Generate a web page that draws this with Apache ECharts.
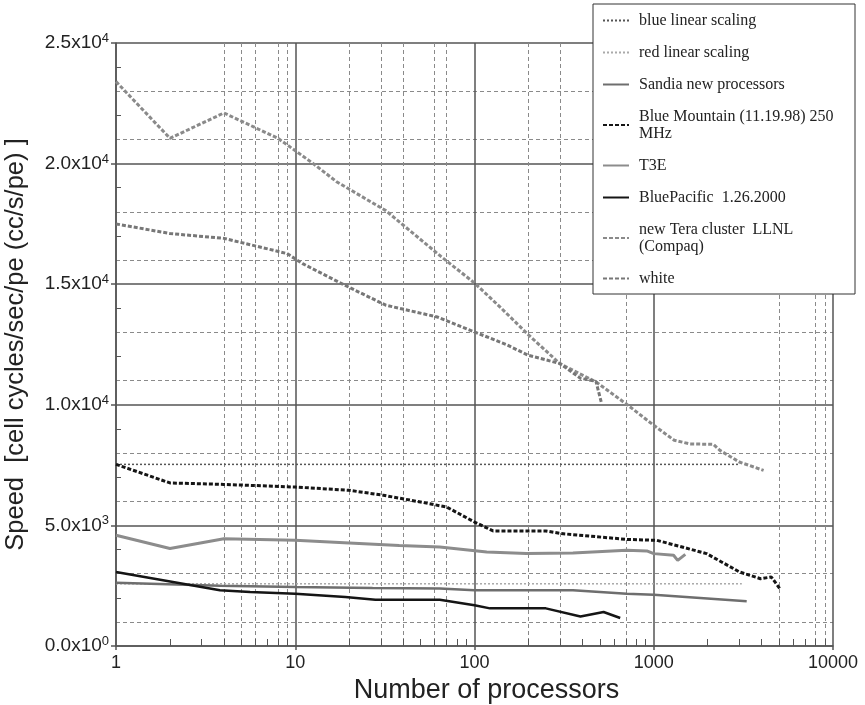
<!DOCTYPE html>
<html>
<head>
<meta charset="utf-8">
<title>Speed vs processors</title>
<script src="https://cdn.jsdelivr.net/npm/echarts@6/dist/echarts.min.js"></script>
<style>
  html, body { margin: 0; padding: 0; background: #fff; }
  #chart { width: 865px; height: 705px; }
</style>
</head>
<body>
<div id="chart"></div>
<script>
// data (x = number of processors, y = cc/s/pe)
let blueLinearProcs = [1, 3000];
let blueLinearSpeed = [7530, 7530];
let redLinearProcs = [1, 3100];
let redLinearSpeed = [2580, 2580];

let sandiaProcs = [1, 3.8, 10, 27, 64, 100, 354, 707, 1000, 3300];
let sandiaSpeed = [2620, 2500, 2450, 2400, 2380, 2310, 2310, 2170, 2120, 1860];

let blueMtnProcs = [1, 2, 4, 10, 20, 31, 50, 70, 100, 127, 250, 305, 707, 1040, 1400, 1970, 3010, 3940, 4530, 5050];
let blueMtnSpeed = [7530, 6760, 6700, 6590, 6455, 6250, 5970, 5760, 5140, 4770, 4770, 4660, 4420, 4380, 4130, 3830, 3070, 2790, 2860, 2380];

let t3eProcs = [1, 2, 4, 10, 20, 38, 64, 117, 195, 354, 707, 915, 1000, 1290, 1360, 1500];
let t3eSpeed = [4590, 4040, 4450, 4380, 4270, 4170, 4100, 3900, 3830, 3860, 3970, 3940, 3830, 3760, 3550, 3800];

let bluePacProcs = [1, 3.8, 5.6, 10, 19, 28, 64, 100, 122, 250, 390, 525, 650];
let bluePacSpeed = [3070, 2310, 2240, 2170, 2030, 1920, 1920, 1690, 1560, 1560, 1220, 1410, 1160];

let teraProcs = [1, 2, 4, 8, 12.6, 17, 32, 65, 100, 139, 200, 300, 476, 707, 1000, 1300, 1590, 2150, 2340, 3000, 4100];
let teraSpeed = [23400, 21050, 22100, 21050, 20000, 19250, 18050, 16150, 15050, 14050, 12900, 11700, 10950, 10020, 9150, 8530, 8380, 8360, 8110, 7630, 7280];

let whiteProcs = [1, 2, 4, 9, 11, 19, 32, 62, 100, 150, 200, 300, 390, 476, 512];
let whiteSpeed = [17500, 17100, 16900, 16270, 15850, 14950, 14130, 13640, 13020, 12500, 12050, 11710, 11100, 10970, 10050];

// ticks and grid lines
let xMinorTicks = [2, 3, 4, 5, 6, 7, 8, 9, 20, 30, 40, 50, 60, 70, 80, 90,
  200, 300, 400, 500, 600, 700, 800, 900, 2000, 3000, 4000, 5000, 6000, 7000, 8000, 9000];
let xDashedLines = [4, 5, 6, 8, 9, 20, 30, 40, 60, 70, 200, 300, 700, 5000, 8000, 9000];
let yMinorTicks = [2000, 4000, 7000, 9000, 12000, 14000, 17000, 19000, 22000, 24000];
let yDashedLines = [1000, 3000, 6000, 8000, 11000, 13000, 16000, 18000, 21000, 23000];

let legendText = {
  "blue linear scaling": "blue linear scaling",
  "red linear scaling": "red linear scaling",
  "Sandia new processors": "Sandia new processors",
  "Blue Mountain": "Blue Mountain (11.19.98) 250\nMHz",
  "T3E": "T3E",
  "BluePacific": "BluePacific  1.26.2000",
  "new Tera cluster": "new Tera cluster  LLNL\n(Compaq)",
  "white": "white"
};

function zip(xs, ys) {
  return xs.map((x, i) => [x, ys[i]]);
}

function lineSeries(name, xs, ys, color, width, type) {
  return {
    name: name,
    type: "line",
    data: zip(xs, ys),
    symbol: "none",
    z: 3,
    lineStyle: { color: color, width: width, type: type },
    itemStyle: { color: color }
  };
}

const sans = "Liberation Sans";
const majorLine = { color: "#555", width: 1.5 };
const dashedGrid = { color: "#8a8a8a", width: 1, type: [4, 3] };
const clear = "rgba(0,0,0,0)";

let chart = echarts.init(document.getElementById("chart"), null, { renderer: "canvas" });

let option = {
  backgroundColor: "#fff",
  animation: false,
  grid: { left: 116, right: 32, top: 43, bottom: 59, outerBoundsMode: "none" },
  legend: {
    orient: "vertical",
    left: 593,
    top: 4,
    padding: [8, 8, 7, 9],
    itemGap: 15,
    itemWidth: 26,
    itemHeight: 14,
    backgroundColor: "#fff",
    borderColor: "#333",
    borderWidth: 1,
    // hide the circle that the line legend icon draws
    itemStyle: { color: clear, borderColor: clear, borderWidth: 0, opacity: 0 },
    formatter: name => legendText[name],
    textStyle: {
      fontFamily: "Liberation Serif",
      fontSize: 16,
      lineHeight: 17,
      color: "#222",
      width: 208,
      padding: [0, 0, 0, 5]
    },
    data: ["blue linear scaling", "red linear scaling", "Sandia new processors",
      "Blue Mountain", "T3E", "BluePacific", "new Tera cluster", "white"]
  },
  xAxis: [
    {
      type: "log",
      logBase: 10,
      min: 1,
      max: 10000,
      position: "bottom",
      name: "Number of processors",
      nameLocation: "middle",
      nameGap: 23,
      nameTextStyle: { fontFamily: sans, fontSize: 27, color: "#222", padding: [0, 0, 0, 24] },
      axisLine: { lineStyle: majorLine },
      axisTick: { show: true, length: 4, lineStyle: majorLine },
      axisLabel: {
        fontFamily: sans, fontSize: 18, color: "#222", margin: 8,
        formatter: v => String(Math.round(v))
      },
      splitLine: { show: true, lineStyle: majorLine }
    },
    {
      type: "log",
      logBase: 10,
      min: 1,
      max: 10000,
      position: "bottom",
      axisLine: { show: false },
      axisLabel: { show: false },
      axisTick: { show: true, inside: true, length: 7, customValues: xMinorTicks, lineStyle: { color: "#555", width: 1 } },
      splitLine: { show: false }
    },
    {
      type: "log",
      logBase: 10,
      min: 1,
      max: 10000,
      position: "bottom",
      axisLine: { show: false },
      axisLabel: { show: false },
      axisTick: { show: false, customValues: xDashedLines },
      splitLine: { show: true, lineStyle: dashedGrid }
    }
  ],
  yAxis: [
    {
      type: "value",
      min: 0,
      max: 25000,
      interval: 5000,
      position: "left",
      name: "Speed  [cell cycles/sec/pe (cc/s/pe) ]",
      nameLocation: "middle",
      nameRotate: 90,
      nameGap: 87,
      nameTextStyle: { fontFamily: sans, fontSize: 25.5, color: "#222" },
      axisLine: { show: true, lineStyle: majorLine },
      axisTick: { show: true, length: 5, lineStyle: majorLine },
      axisLabel: {
        margin: 7,
        formatter: function (v) {
          let e = v === 0 ? 0 : Math.floor(Math.log10(v) + 1e-9);
          let m = (v / Math.pow(10, e)).toFixed(1);
          return "{m|" + m + "x10}{e|" + e + "}";
        },
        rich: {
          m: { fontFamily: sans, fontSize: 19, color: "#222", lineHeight: 22 },
          e: { fontFamily: sans, fontSize: 13, color: "#222", verticalAlign: "top", lineHeight: 22 }
        }
      },
      splitLine: { show: true, lineStyle: majorLine }
    },
    {
      type: "value",
      min: 0,
      max: 25000,
      position: "left",
      axisLine: { show: false },
      axisLabel: { show: false },
      axisTick: { show: true, inside: true, length: 5, customValues: yMinorTicks, lineStyle: { color: "#555", width: 1 } },
      splitLine: { show: false }
    },
    {
      type: "value",
      min: 0,
      max: 25000,
      position: "left",
      axisLine: { show: false },
      axisLabel: { show: false },
      axisTick: { show: false, customValues: yDashedLines },
      splitLine: { show: true, lineStyle: dashedGrid }
    }
  ],
  series: [
    lineSeries("blue linear scaling", blueLinearProcs, blueLinearSpeed, "#555", 1.5, [2, 2]),
    lineSeries("red linear scaling", redLinearProcs, redLinearSpeed, "#aaa", 1.5, [2, 2]),
    lineSeries("Sandia new processors", sandiaProcs, sandiaSpeed, "#6e6e6e", 2.5, "solid"),
    lineSeries("Blue Mountain", blueMtnProcs, blueMtnSpeed, "#151515", 3, [4, 2]),
    lineSeries("T3E", t3eProcs, t3eSpeed, "#8c8c8c", 3, "solid"),
    lineSeries("BluePacific", bluePacProcs, bluePacSpeed, "#151515", 2.5, "solid"),
    lineSeries("new Tera cluster", teraProcs, teraSpeed, "#8a8a8a", 3, [4, 2]),
    lineSeries("white", whiteProcs, whiteSpeed, "#777", 3, [4, 2])
  ]
};

chart.setOption(option);
</script>
</body>
</html>
